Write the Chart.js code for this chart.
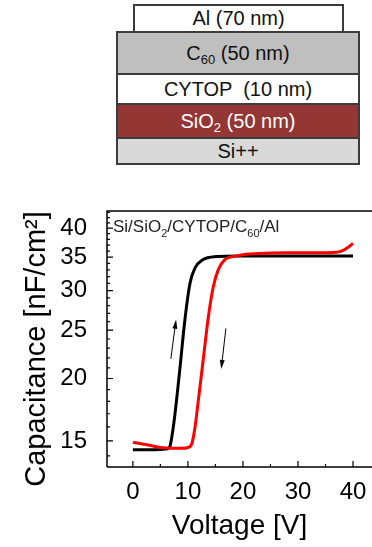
<!DOCTYPE html>
<html lang="en">
<head>
    <meta charset="UTF-8">
    <meta name="viewport" content="width=device-width, initial-scale=1.0">
    <script src="https://cdn.jsdelivr.net/npm/chart.js@4.4.0/dist/chart.umd.min.js"></script>
    <title>C-V hysteresis</title>
    <style>
        body { margin: 0; background: #fff; overflow: hidden; font-family: "Liberation Sans", Arial, sans-serif; }
        #wrap { position: relative; width: 372px; height: 547px; }
        #chart { position: absolute; left: 0; top: 0; }
        .layer { position: absolute; box-sizing: border-box; border: 2px solid #3c3c3c;
                 display: flex; align-items: center; justify-content: center; font-size: 20px; color: #111; white-space: pre; }
        .layer .sub { font-size: 13px; position: relative; top: 6px; }
    </style>
</head>
<body>
<div id="wrap">
    <canvas id="chart" width="372" height="547"></canvas>
    <div class="layer" style="left:133px;top:4px;width:211px;height:29px;background:#fff;">Al (70 nm)</div>
    <div class="layer" style="left:116px;top:31px;width:244px;height:44px;background:#bfbfbf;">C<span class="sub">60</span> (50 nm)</div>
    <div class="layer" style="left:116px;top:73px;width:244px;height:32px;background:#fff;">CYTOP  (10 nm)</div>
    <div class="layer" style="left:116px;top:103px;width:244px;height:36px;background:#943634;color:#fff;">SiO<span class="sub">2</span> (50 nm)</div>
    <div class="layer" style="left:116px;top:137px;width:244px;height:28px;background:#d9d9d9;">Si++</div>
</div>

<script>
    // up sweep (black)
    const voltageUp = [0, 2, 4, 6, 6.7, 7.0, 7.6, 8.5, 9.45, 10.4, 11.3, 12.7, 15.2, 19.5, 25, 30, 35, 40];
    const capUp     = [14.4, 14.4, 14.4, 14.45, 14.6, 15.1, 16.8, 20.7, 26.2, 31.1, 33.3, 34.6, 35.1, 35.2, 35.2, 35.2, 35.2, 35.2];

    // down sweep (red)
    const voltageDown = [0, 1.5, 3, 5, 7, 9, 10, 10.7, 11.3, 11.9, 12.8, 13.7, 14.6, 15.5, 16.7, 18.2, 20, 23, 28, 33, 37, 38.2, 39.2, 40];
    const capDown     = [14.9, 14.8, 14.7, 14.55, 14.5, 14.5, 14.55, 14.8, 16.0, 18.1, 21.9, 26.5, 30.5, 33.0, 34.6, 35.1, 35.4, 35.6, 35.7, 35.7, 35.8, 36.1, 36.7, 37.3];

    const xTicks = [0, 10, 20, 30, 40];
    const xMinor = [5, 15, 25, 35];
    const yTicks = [15, 20, 25, 30, 35, 40];

    const FONT = '"Liberation Sans", Arial, sans-serif';

    function pts(xs, ys) {
        return xs.map((x, i) => ({ x: x, y: ys[i] }));
    }

    // frame, inward ticks, arrows, y title and the sample label
    const decor = {
        id: 'decor',
        afterDatasetsDraw(chart) {
            const ctx = chart.ctx;
            const a = chart.chartArea;
            const xs = chart.scales.x, ys = chart.scales.y;
            ctx.save();
            ctx.strokeStyle = '#000';
            ctx.lineWidth = 1.5;
            ctx.beginPath();
            ctx.moveTo(a.left, a.bottom); ctx.lineTo(a.left, a.top); ctx.lineTo(a.right + 5, a.top);
            ctx.moveTo(a.left, a.bottom); ctx.lineTo(a.right + 5, a.bottom);
            ctx.stroke();

            ctx.lineWidth = 1.2;
            ctx.beginPath();
            xTicks.forEach(v => { const p = xs.getPixelForValue(v); ctx.moveTo(p, a.bottom); ctx.lineTo(p, a.bottom - 6); });
            xMinor.forEach(v => { const p = xs.getPixelForValue(v); ctx.moveTo(p, a.bottom); ctx.lineTo(p, a.bottom - 3); });
            for (let v = 14; v <= 43; v++) {
                const p = ys.getPixelForValue(v);
                const len = yTicks.includes(v) ? 6 : 3;
                ctx.moveTo(a.left, p); ctx.lineTo(a.left + len, p);
            }
            ctx.stroke();

            // sweep direction arrows
            const arrow = (x0, y0, x1, y1) => {
                const px0 = xs.getPixelForValue(x0), py0 = ys.getPixelForValue(y0);
                const px1 = xs.getPixelForValue(x1), py1 = ys.getPixelForValue(y1);
                const ang = Math.atan2(py1 - py0, px1 - px0);
                ctx.lineWidth = 1;
                ctx.beginPath(); ctx.moveTo(px0, py0); ctx.lineTo(px1, py1); ctx.stroke();
                ctx.beginPath();
                ctx.moveTo(px1 + 2 * Math.cos(ang), py1 + 2 * Math.sin(ang));
                ctx.lineTo(px1 - 7 * Math.cos(ang) + 2.5 * Math.sin(ang), py1 - 7 * Math.sin(ang) - 2.5 * Math.cos(ang));
                ctx.lineTo(px1 - 7 * Math.cos(ang) - 2.5 * Math.sin(ang), py1 - 7 * Math.sin(ang) + 2.5 * Math.cos(ang));
                ctx.closePath();
                ctx.fillStyle = '#000';
                ctx.fill();
            };
            arrow(6.9, 21.9, 7.8, 26.0);
            arrow(16.9, 25.2, 16.1, 21.1);

            // sample label with subscripts
            const parts = [['Si/SiO', 0], ['2', 1], ['/CYTOP/C', 0], ['60', 1], ['/Al', 0]];
            let x = a.left + 6;
            const base = a.top + 21;
            ctx.fillStyle = '#222';
            ctx.textBaseline = 'alphabetic';
            parts.forEach(([t, sub]) => {
                ctx.font = (sub ? 11 : 17) + 'px ' + FONT;
                ctx.fillText(t, x, sub ? base + 5 : base);
                x += ctx.measureText(t).width;
            });

            // y axis title
            ctx.translate(37, 349);
            ctx.rotate(-Math.PI / 2);
            ctx.font = '29px ' + FONT;
            ctx.fillStyle = '#000';
            ctx.textAlign = 'center';
            ctx.textBaseline = 'middle';
            ctx.fillText('Capacitance [nF/cm²]', 0, 0);
            ctx.restore();
        }
    };

    new Chart(document.getElementById('chart'), {
        type: 'line',
        data: {
            datasets: [
                { data: pts(voltageDown, capDown), borderColor: '#ff0000', borderWidth: 3, pointRadius: 0, cubicInterpolationMode: 'monotone' },
                { data: pts(voltageUp, capUp), borderColor: '#000000', borderWidth: 3, pointRadius: 0, cubicInterpolationMode: 'monotone' }
            ]
        },
        options: {
            responsive: false,
            animation: false,
            layout: { padding: { top: 211, left: 0, right: 0, bottom: 0 } },
            plugins: { legend: { display: false }, tooltip: { enabled: false } },
            scales: {
                x: {
                    type: 'linear',
                    min: -4.7,
                    max: 43.45,
                    afterBuildTicks: s => { s.ticks = xTicks.map(v => ({ value: v })); },
                    afterFit: s => { s.height = 80; },
                    grid: { display: false },
                    border: { display: false },
                    ticks: { color: '#000', font: { family: FONT, size: 24 }, padding: 3, maxRotation: 0 },
                    title: { display: true, text: 'Voltage [V]', color: '#000', font: { family: FONT, size: 28 }, padding: { top: 0, bottom: 4 } }
                },
                y: {
                    type: 'logarithmic',
                    min: 13.3,
                    max: 43.3,
                    afterBuildTicks: s => { s.ticks = yTicks.map(v => ({ value: v })); },
                    afterFit: s => { s.width = 107; },
                    grid: { display: false },
                    border: { display: false },
                    ticks: { color: '#000', font: { family: FONT, size: 24 }, padding: 12, callback: v => String(v) }
                }
            }
        },
        plugins: [decor]
    });
</script>
</body>
</html>
